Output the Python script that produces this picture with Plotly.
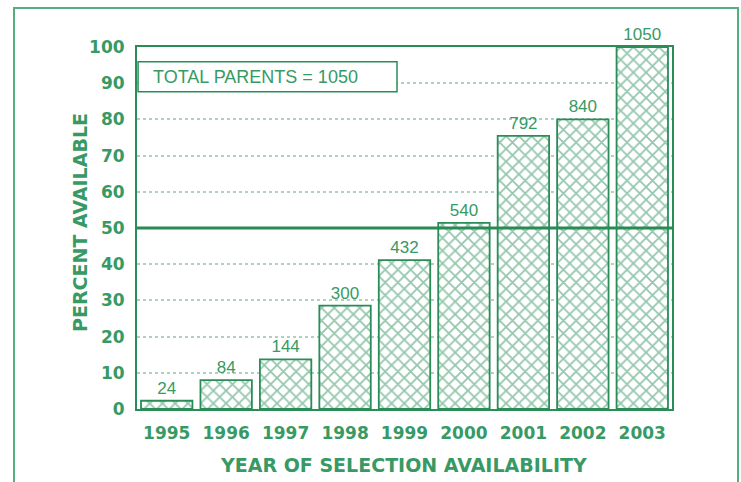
import plotly.graph_objects as go

# Parent counts available for selection by year
years = ["1995", "1996", "1997", "1998", "1999", "2000", "2001", "2002", "2003"]
parents_available = [24, 84, 144, 300, 432, 540, 792, 840, 1050]
total_parents = 1050
y_ticks = [0, 10, 20, 30, 40, 50, 60, 70, 80, 90, 100]
threshold_pct = 50

percent_available = [c / total_parents * 100 for c in parents_available]

GREEN = "#2a8d58"
TEXT_GREEN = "#379a65"
LIGHT_GREEN = "#55ad80"
GRID = "#b3cfbf"

fig = go.Figure()
fig.add_trace(go.Bar(
    x=years,
    y=percent_available,
    text=[str(c) for c in parents_available],
    textposition="outside",
    textfont=dict(family="Liberation Sans", size=17, color=TEXT_GREEN),
    cliponaxis=False,
    marker=dict(
        color="white",
        line=dict(color=GREEN, width=1.8),
        pattern=dict(shape="x", fgcolor=GREEN, bgcolor="white", size=9, solidity=0.35),
    ),
    hoverinfo="skip",
))

fig.update_layout(
    width=741,
    height=482,
    margin=dict(l=137, r=69, t=47, b=73),
    paper_bgcolor="white",
    plot_bgcolor="white",
    showlegend=False,
    bargap=0.135,
    xaxis=dict(
        showgrid=False,
        showline=True,
        linecolor=GREEN,
        linewidth=2,
        mirror=True,
        ticks="",
        tickfont=dict(family="DejaVu Sans", size=17, color=TEXT_GREEN, weight="bold"),
        ticklabelstandoff=8,
    ),
    yaxis=dict(
        range=[0, 100],
        tickvals=y_ticks,
        showgrid=True,
        gridcolor=GRID,
        griddash="dot",
        gridwidth=1.5,
        zeroline=False,
        showline=True,
        linecolor=GREEN,
        linewidth=2,
        mirror=True,
        ticks="",
        tickfont=dict(family="DejaVu Sans", size=17, color=TEXT_GREEN, weight="bold"),
        ticklabelstandoff=7,
    ),
    shapes=[
        # outer frame
        dict(type="rect", xref="paper", yref="paper",
             x0=-0.2299, x1=1.1234, y0=-0.2376, y1=1.1077,
             line=dict(color=LIGHT_GREEN, width=2), layer="below"),
        # 50 percent reference line
        dict(type="line", xref="paper", yref="y", x0=0, x1=1,
             y0=threshold_pct, y1=threshold_pct,
             line=dict(color="#2a8a55", width=3), layer="above"),
        # total parents box
        dict(type="rect", xref="paper", yref="paper",
             x0=0.002, x1=0.486, y0=0.8765, y1=0.9594,
             line=dict(color=GREEN, width=1.5), fillcolor="white", layer="above"),
    ],
    annotations=[
        dict(text=f"TOTAL PARENTS = {total_parents}", xref="paper", yref="paper",
             x=0.0256, y=0.918, xanchor="left", yanchor="middle", showarrow=False,
             font=dict(family="Liberation Sans", size=18, color=TEXT_GREEN)),
        dict(text="PERCENT AVAILABLE", xref="paper", yref="paper",
             x=-0.1065, y=0.514, xanchor="center", yanchor="middle", textangle=-90,
             showarrow=False,
             font=dict(family="DejaVu Sans", size=19, color=TEXT_GREEN, weight="bold")),
        dict(text="YEAR OF SELECTION AVAILABILITY", xref="paper", yref="paper",
             x=0.499, y=-0.1547, xanchor="center", yanchor="middle", showarrow=False,
             font=dict(family="DejaVu Sans", size=19, color=TEXT_GREEN, weight="bold")),
    ],
)

fig.write_html("out.html")
